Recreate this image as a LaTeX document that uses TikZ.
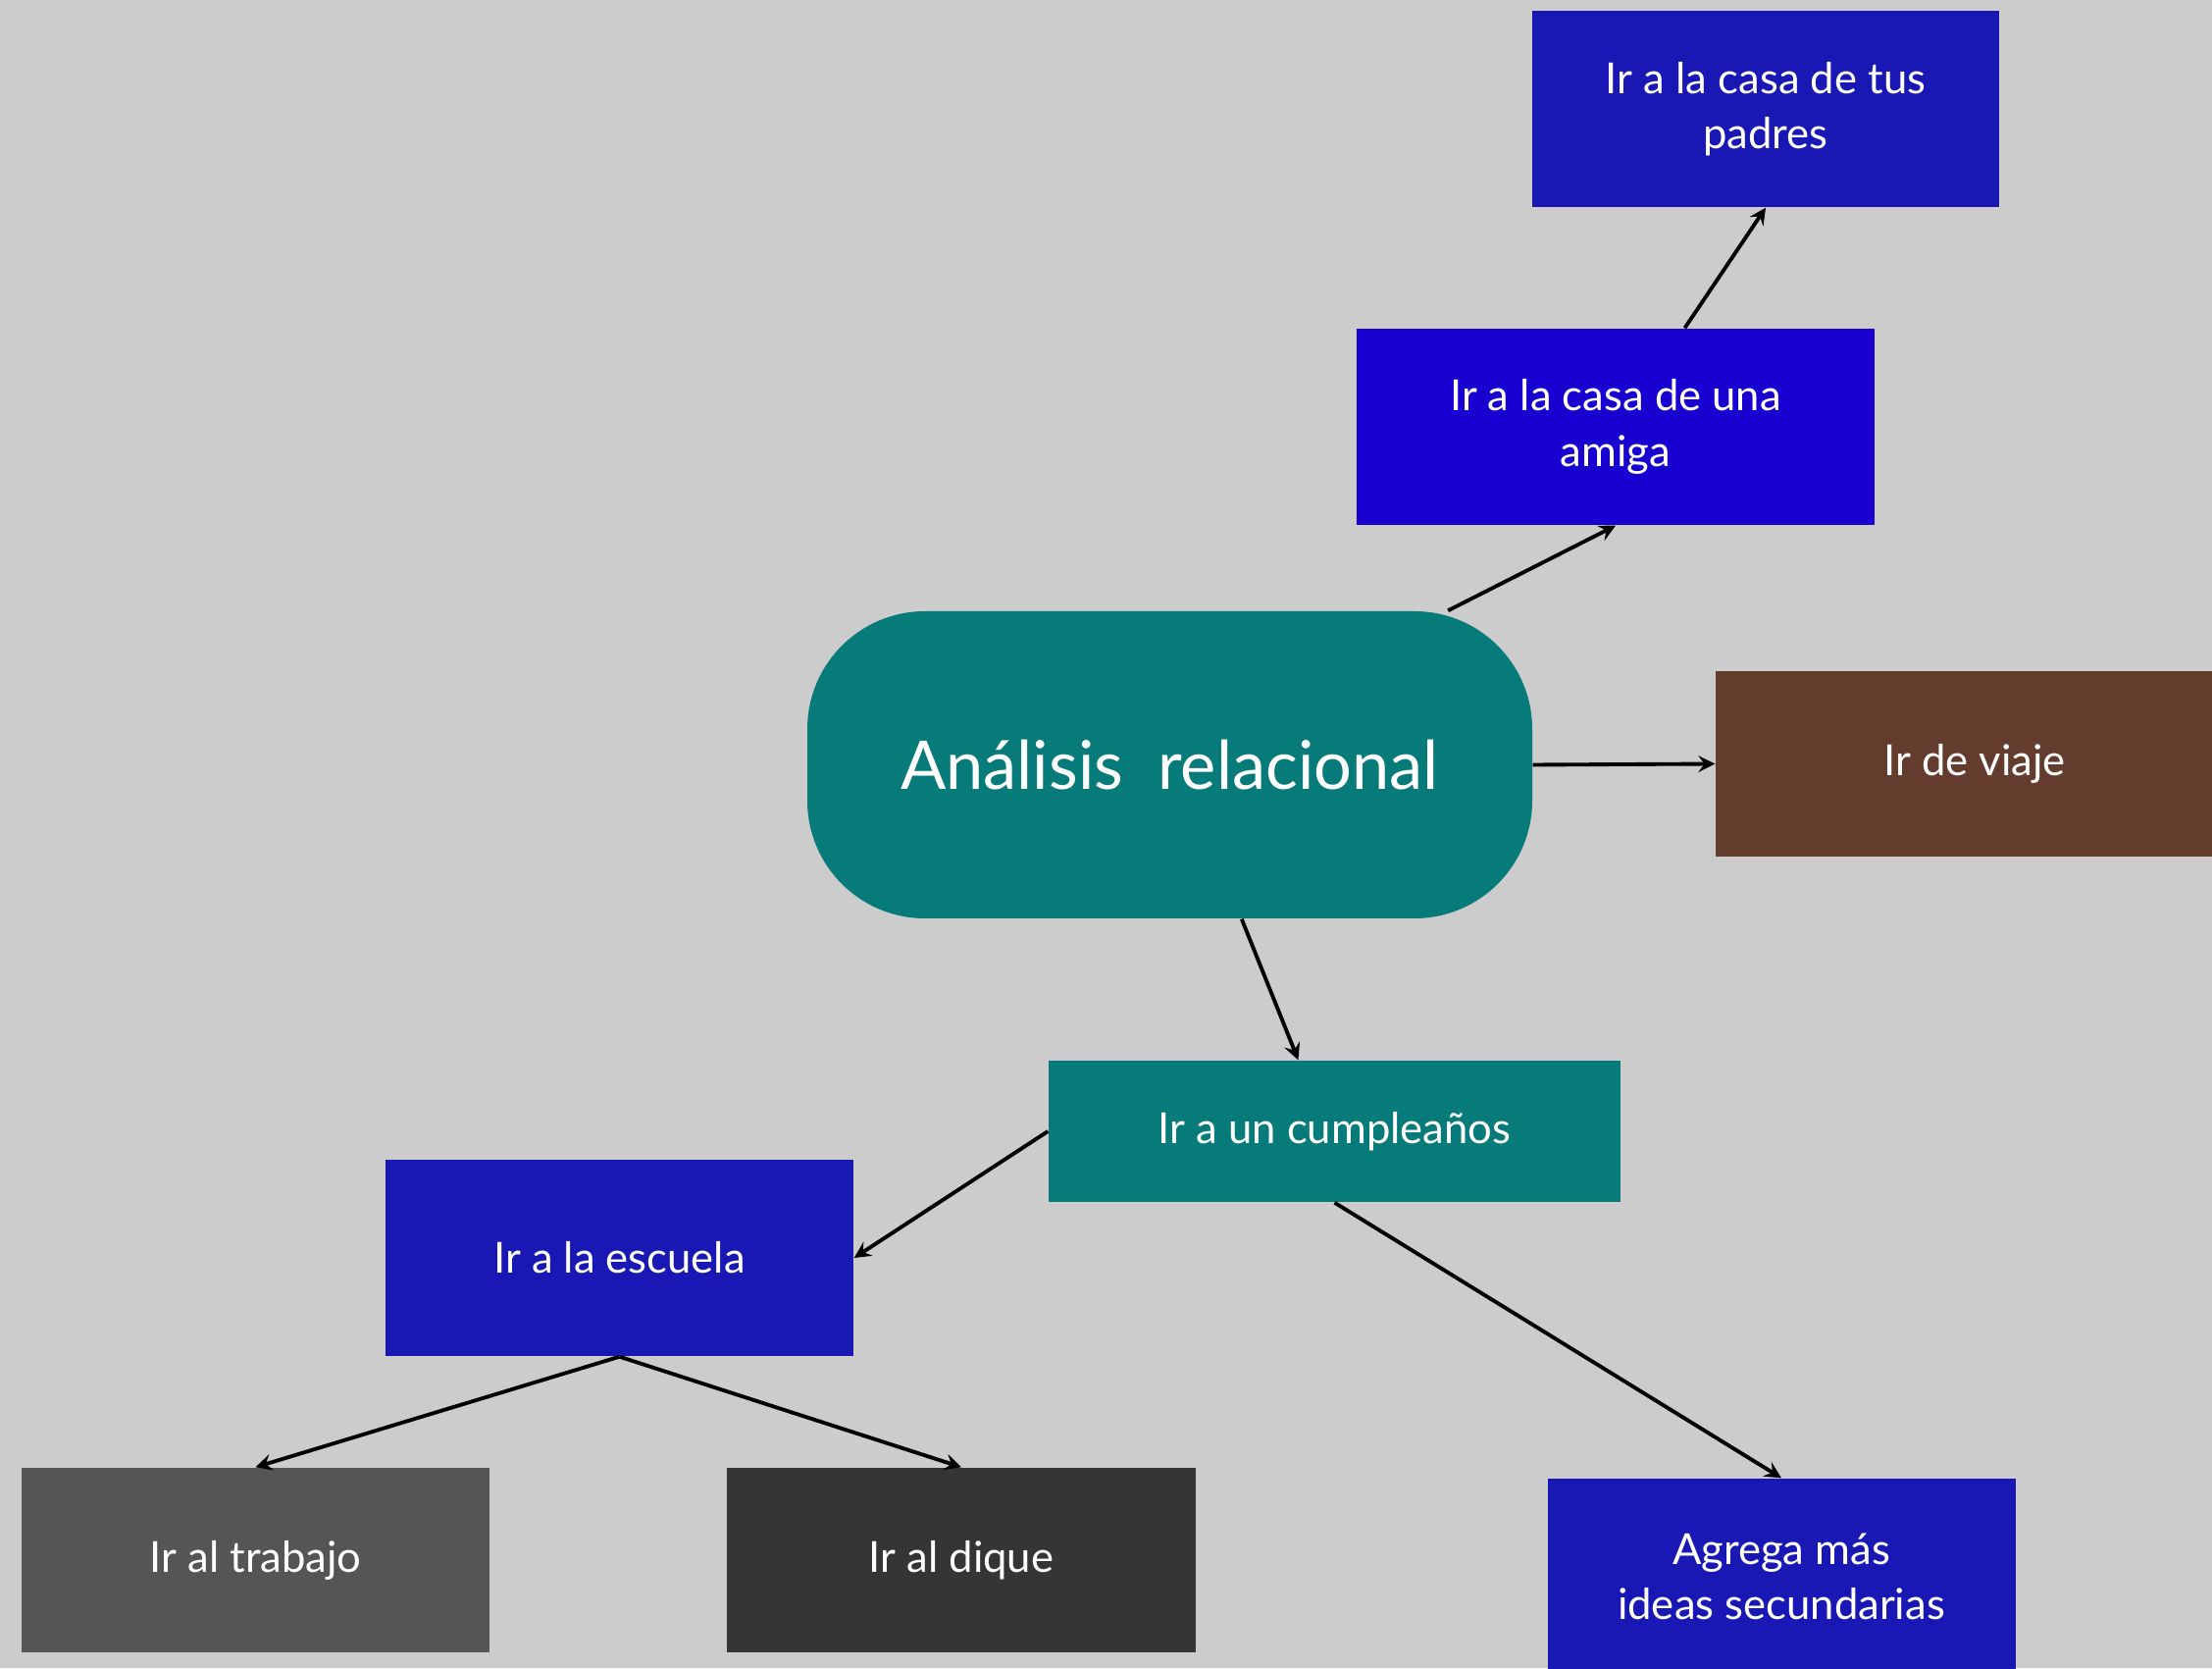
\documentclass[tikz,border=0pt]{standalone}
\usepackage{fontspec}
\setmainfont{Lato}
\usepackage{xcolor}
\usepackage{tikz}
\usetikzlibrary{shapes.geometric, arrows}
\definecolor{fondo}{HTML}{CCCCCC}
\definecolor{azul}{HTML}{1A18B4}
\definecolor{azulvivo}{HTML}{1800D1}
\definecolor{verdeazul}{HTML}{077A7A}
\definecolor{cafe}{HTML}{633C2D}
\definecolor{grismedio}{HTML}{555555}
\definecolor{grisoscuro}{HTML}{353535}
\tikzstyle{arrow} = [line width=1.1pt,->,>=stealth]
\tikzstyle{caja} = [rectangle, inner sep=0pt, align=center, text=white, font=\fontsize{12.4}{16}\selectfont]

\begin{document}
\begin{tikzpicture}
                            \fill [fondo] (0, 0) rectangle (22.55, 17);
                            \useasboundingbox (0, 0) rectangle (22.55, 17);
                            \node (central) [caja, fill=verdeazul, rounded corners=1.2cm, minimum width=7.39cm, minimum height=3.13cm, font=\fontsize{19.5}{24}\selectfont] at (11.925, 9.205) {Análisis~~relacional};
                            \node (amiga) [caja, fill=azulvivo, minimum width=5.28cm, minimum height=2cm] at (16.47, 12.65) {Ir a la casa de una\\amiga};
                            \node (padres) [caja, fill=azul, minimum width=4.76cm, minimum height=2cm] at (18, 15.89) {Ir a la casa de tus\\padres};
                            \node (viaje) [caja, fill=cafe, minimum width=5.28cm, minimum height=1.89cm] at (20.13, 9.215) {Ir de viaje};
                            \node (cumple) [caja, fill=verdeazul, minimum width=5.83cm, minimum height=1.44cm] at (13.605, 5.47) {Ir a un cumpleaños};
                            \node (escuela) [caja, fill=azul, minimum width=4.77cm, minimum height=2cm] at (6.315, 4.18) {Ir a la escuela};
                            \node (trabajo) [caja, fill=grismedio, minimum width=4.77cm, minimum height=1.88cm] at (2.605, 1.1) {Ir al trabajo};
                            \node (dique) [caja, fill=grisoscuro, minimum width=4.78cm, minimum height=1.88cm] at (9.8, 1.1) {Ir al dique};
                            \node (agrega) [caja, fill=azul, minimum width=4.77cm, minimum height=2cm] at (18.16, 0.93) {Agrega más\\ideas secundarias};
                            \draw [arrow] (central.29) -- (amiga.south);
                            \draw [arrow] (amiga.55) -- (padres.south);
                            \draw [arrow] (central.east) -- (viaje.west);
                            \draw [arrow] (central.-65) -- (cumple.117);
                            \draw [arrow] (cumple.west) -- (escuela.east);
                            \draw [arrow] (cumple.south) -- (agrega.north);
                            \draw [arrow] (escuela.south) -- (trabajo.north);
                            \draw [arrow] (escuela.south) -- (dique.north);
                        \end{tikzpicture}
\end{document}
